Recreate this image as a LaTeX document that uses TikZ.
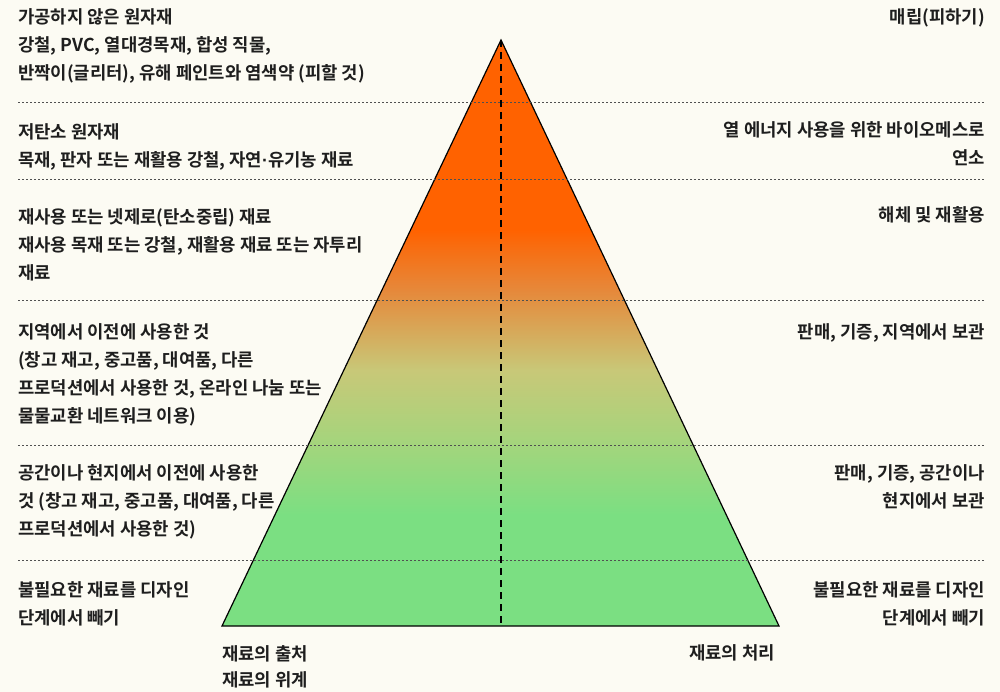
\documentclass[tikz,border=0pt]{standalone}
\usepackage{fontspec}
\setmainfont{Noto Sans CJK KR}[BoldFont={* Bold}]
\newfontfamily\dotfont{Liberation Sans}
\definecolor{bgcream}{RGB}{252,251,243}
\definecolor{txt}{RGB}{30,30,30}
\definecolor{sepgray}{RGB}{80,80,80}
\definecolor{pyrorange}{RGB}{255,98,0}
\definecolor{pyrorange2}{RGB}{230,136,58}
\definecolor{pyrkhaki}{RGB}{200,200,120}
\definecolor{pyrlight}{RGB}{166,212,124}
\definecolor{pyrgreen}{RGB}{123,223,130}
\pgfdeclareverticalshading{pyrshade}{100bp}{%
  color(0bp)=(pyrgreen); color(25bp)=(pyrgreen); color(34.5bp)=(pyrgreen);
  color(40.9bp)=(pyrlight); color(46.8bp)=(pyrkhaki); color(53.7bp)=(pyrorange2);
  color(58.8bp)=(pyrorange); color(75bp)=(pyrorange); color(100bp)=(pyrorange)}
\tikzset{
  lbl/.style={font=\fontsize{17.75}{28}\selectfont\bfseries, text=txt, inner sep=0pt},
  lblL/.style={lbl, align=left, anchor=base west},
  lblR/.style={lbl, align=right, anchor=base east},
  sepline/.style={draw=sepgray, line width=1pt, dash pattern=on 2pt off 2pt},
  pyredge/.style={draw=black, line width=1.2pt, line join=miter},
  axisline/.style={draw=black, line width=2pt, dash pattern=on 7pt off 5pt}
}
\begin{document}
\begin{tikzpicture}[x=1pt,y=-1pt]
\fill[bgcream] (0,0) rectangle (1000,692);
\useasboundingbox (0,0) rectangle (1000,692);
\coordinate (apex) at (501,40);
\coordinate (bl) at (222,626);
\coordinate (br) at (779,626);
\coordinate (basemid) at (501,626);
\shade[shading=pyrshade] (apex) -- (br) -- (bl) -- cycle;
\draw[pyredge] (apex) -- (br) -- (bl) -- cycle;
\foreach \yy in {103,180,300,445,560} {\draw[sepline] (18,\yy) -- (985,\yy);}
\draw[axisline] (apex) -- (basemid);
% left column (anchor = baseline of last line)
\node[lblL] (l1) at (18,79.5) {가공하지 않은 원자재\\강철, PVC, 열대경목재, 합성 직물,\\반짝이(글리터), 유해 페인트와 염색약 (피할 것)};
\node[lblL] (l2) at (18,166.5) {저탄소 원자재\\목재, 판자 또는 재활용 강철, 자연{\dotfont·}유기농 재료};
\node[lblL] (l3) at (18,279.5) {재사용 또는 넷제로(탄소중립) 재료\\재사용 목재 또는 강철, 재활용 재료 또는 자투리\\재료};
\node[lblL] (l4) at (18,422.5) {지역에서 이전에 사용한 것\\(창고 재고, 중고품, 대여품, 다른\\프로덕션에서 사용한 것, 온라인 나눔 또는\\물물교환 네트워크 이용)};
\node[lblL] (l5) at (18,535.5) {공간이나 현지에서 이전에 사용한\\것 (창고 재고, 중고품, 대여품, 다른\\프로덕션에서 사용한 것)};
\node[lblL] (l6) at (18,624.5) {불필요한 재료를 디자인\\단계에서 빼기};
\node[lblL] (src) at (222,686.5) {재료의 출처\\[-2pt]재료의 위계};
% right column
\node[lblR] (r1) at (985,23.5) {매립(피하기)};
\node[lblR] (r2) at (985,164.5) {열 에너지 사용을 위한 바이오메스로\\연소};
\node[lblR] (r3) at (985,221.5) {해체 및 재활용};
\node[lblR] (r4) at (985,338.5) {판매, 기증, 지역에서 보관};
\node[lblR] (r5) at (985,507.5) {판매, 기증, 공간이나\\현지에서 보관};
\node[lblR] (r6) at (985,624.5) {불필요한 재료를 디자인\\단계에서 빼기};
\node[lblR] (disp) at (775,659.5) {재료의 처리};
\end{tikzpicture}
\end{document}
